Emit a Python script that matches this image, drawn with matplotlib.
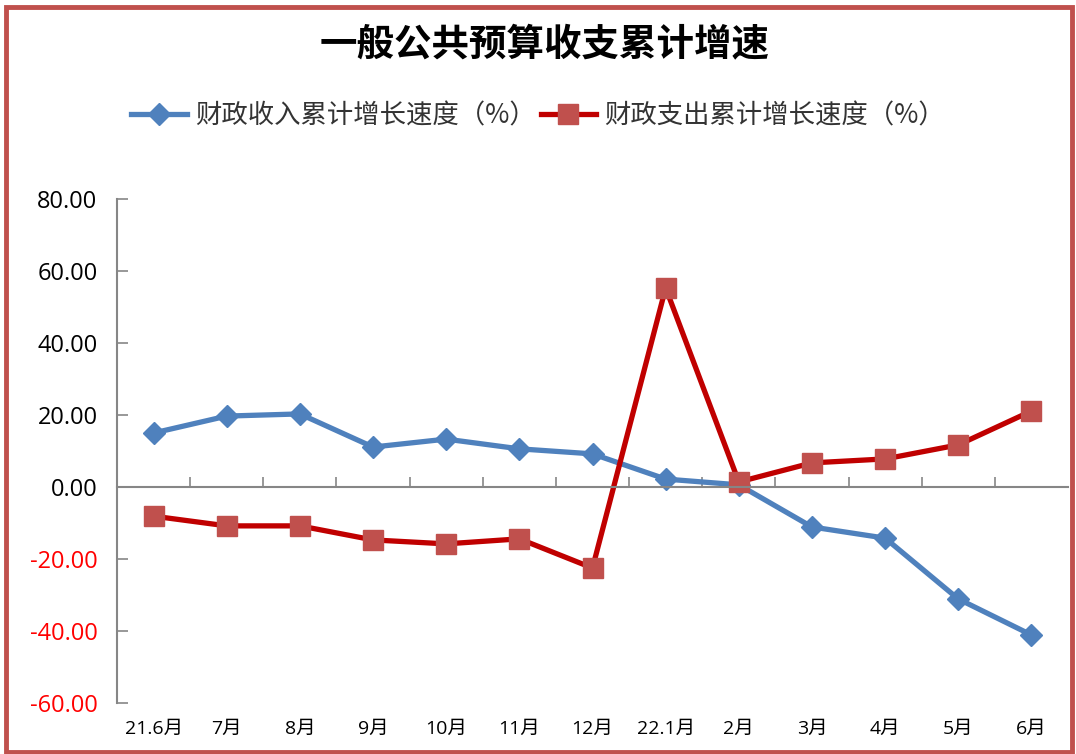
import matplotlib
matplotlib.use("Agg")
import matplotlib.pyplot as plt
from matplotlib.patches import Rectangle
import numpy as np

plt.rcParams['font.family'] = ['Noto Sans CJK SC', 'DejaVu Sans']

categories = ["21.6月", "7月", "8月", "9月", "10月", "11月", "12月", "22.1月", "2月", "3月", "4月", "5月", "6月"]
revenue = [15.0, 19.7, 20.3, 11.1, 13.3, 10.6, 9.2, 2.2, 0.6, -11.1, -14.2, -31.1, -41.1]
expenditure = [-8.1, -10.8, -10.8, -14.7, -15.8, -14.4, -22.5, 55.3, 1.4, 6.7, 7.8, 11.7, 21.1]
yticks = [-60, -40, -20, 0, 20, 40, 60, 80]
title = "一般公共预算收支累计增速"
label_rev = "财政收入累计增长速度（%）"
label_exp = "财政支出累计增长速度（%）"

fig = plt.figure(figsize=(10.76, 7.54), dpi=100)
ax = fig.add_axes([117/1076, 1-703/754, (1068-117)/1076, (703-199)/754])

x = np.arange(len(categories))
l1, = ax.plot(x, revenue, color='#4F81BD', lw=3.8, marker='D', markersize=11,
              markerfacecolor='#4F81BD', markeredgecolor='#4F81BD', label=label_rev)
l2, = ax.plot(x, expenditure, color='#C00000', lw=3.8, marker='s', markersize=14,
              markerfacecolor='#C0504D', markeredgecolor='#C0504D', label=label_exp)

ax.set_xlim(-0.5, len(categories) - 0.5)
ax.set_ylim(-60, 80)
ax.set_yticks(yticks)
ax.set_yticklabels([f"{v:.2f}" for v in yticks], fontsize=17, family=['Open Sans', 'DejaVu Sans'])
for t, v in zip(ax.get_yticklabels(), yticks):
    t.set_color('#FF0000' if v < 0 else 'black')
ax.tick_params(axis='y', direction='in', length=8, width=1.2, color='#868686', pad=14)

ax.spines['top'].set_visible(False)
ax.spines['right'].set_visible(False)
ax.spines['left'].set_color('#868686')
ax.spines['left'].set_linewidth(1.5)
ax.spines['bottom'].set_position(('data', 0))
ax.spines['bottom'].set_color('#868686')
ax.spines['bottom'].set_linewidth(1.5)

ax.set_xticks(x)
ax.set_xticks(np.arange(0.5, len(categories) - 0.5, 1), minor=True)
ax.tick_params(axis='x', which='major', length=0, labelbottom=False)
ax.tick_params(axis='x', which='minor', direction='in', length=7, width=1.2, color='#868686')

sec = ax.secondary_xaxis(0)
sec.set_xticks(x)
sec.set_xticklabels(categories, fontsize=14, family=['Open Sans', 'Noto Sans CJK SC'])
sec.tick_params(length=0, pad=12)
sec.spines['bottom'].set_visible(False)

fig.text(545/1076, 1-45/754, title, ha='center', va='center', fontsize=27, fontweight='bold')

leg = fig.legend(handles=[l1, l2], loc='center', bbox_to_anchor=(538/1076, 1-116/754),
                 ncol=2, frameon=False, fontsize=19, handlelength=2.1, columnspacing=0.2,
                 handletextpad=0.3)
for t in leg.get_texts():
    t.set_color('#333333')

fig.patches.append(Rectangle((6/1076, 2/754), 1066/1076, 745/754, transform=fig.transFigure,
                             fill=False, edgecolor='#C0504D', lw=3.5))

fig.savefig("out.png", dpi=100)
